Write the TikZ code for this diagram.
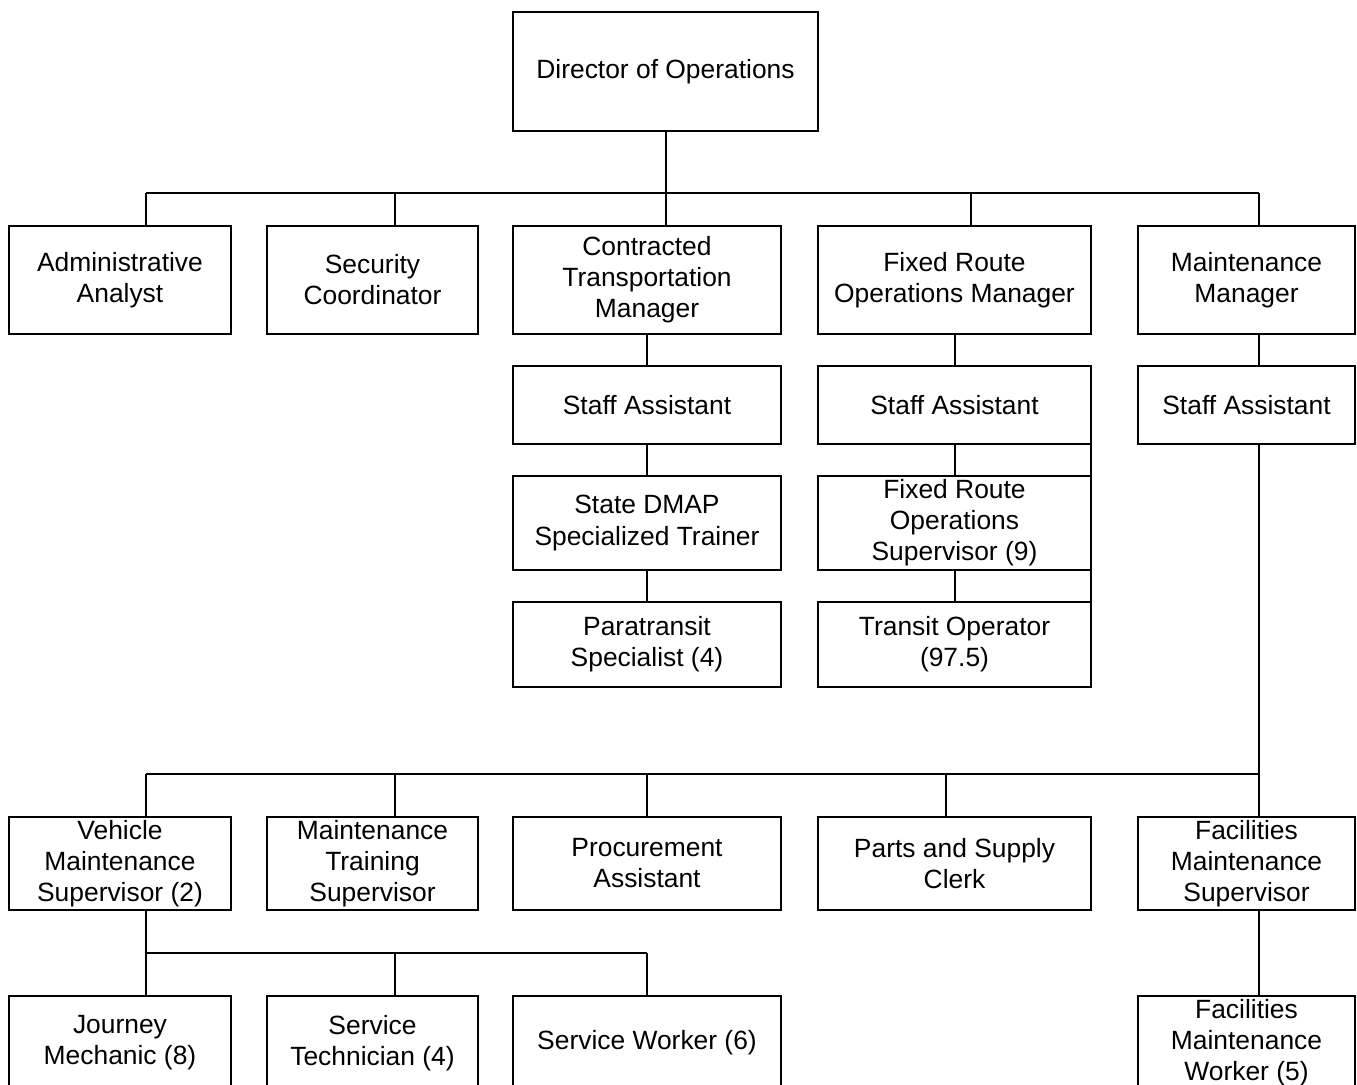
\documentclass[tikz,border=0pt]{standalone}
\usepackage{fontspec}
\setmainfont{Liberation Sans}
\begin{document}
\begin{tikzpicture}[x=0.75pt,y=-0.75pt,
  box/.style={draw, line width=1.5pt, inner sep=0pt, outer sep=0pt, align=center, anchor=north west,
    font=\fontsize{19.8}{23.3}\selectfont},
  sz/.style 2 args={minimum width=#1*0.75pt, minimum height=#2*0.75pt},
  wire/.style={line width=1.5pt}]
\useasboundingbox (0,0) rectangle (1357,1085);
\clip (0,0) rectangle (1357,1085);
% top
\node[box,sz={305}{119}] (dir) at (513,12) {Director of Operations};
% row 1
\node[box,sz={222}{108}] (aa)  at (9,226)    {Administrative\\Analyst};
\node[box,sz={211}{108}] (sc)  at (267,226)  {Security\\Coordinator};
\node[box,sz={268}{108}] (ctm) at (513,226)  {Contracted\\Transportation\\Manager};
\node[box,sz={273}{108}] (frm) at (818,226)  {Fixed Route\\Operations Manager};
\node[box,sz={217}{108}] (mm)  at (1138,226) {Maintenance\\Manager};
% row 2
\node[box,sz={268}{78}] (csa) at (513,366)  {Staff Assistant};
\node[box,sz={273}{78}] (fsa) at (818,366)  {Staff Assistant};
\node[box,sz={217}{78}] (msa) at (1138,366) {Staff Assistant};
% row 3
\node[box,sz={268}{94}] (dmap) at (513,476) {State DMAP\\Specialized Trainer};
\node[box,sz={273}{94}] (fros) at (818,476) {Fixed Route\\Operations\\Supervisor (9)};
% row 4
\node[box,sz={268}{85}] (para) at (513,602) {Paratransit\\Specialist (4)};
\node[box,sz={273}{85}] (to)   at (818,602) {Transit Operator\\(97.5)};
% row 5
\node[box,sz={222}{93}] (vms) at (9,817)    {Vehicle\\Maintenance\\Supervisor (2)};
\node[box,sz={211}{93}] (mts) at (267,817)  {Maintenance\\Training\\Supervisor};
\node[box,sz={268}{93}] (pa)  at (513,817)  {Procurement\\Assistant};
\node[box,sz={273}{93}] (psc) at (818,817)  {Parts and Supply\\Clerk};
\node[box,sz={217}{93}] (fms) at (1138,817) {Facilities\\Maintenance\\Supervisor};
% row 6
\node[box,sz={222}{94}] (jm)  at (9,996)    {Journey\\Mechanic (8)};
\node[box,sz={211}{94}] (st)  at (267,996)  {Service\\Technician (4)};
\node[box,sz={268}{94}] (sw)  at (513,996)  {Service Worker (6)};
\node[box,sz={217}{94}] (fmw) at (1138,996) {Facilities\\Maintenance\\Worker (5)};
% bus joints
\coordinate (a1) at (146,193);
\coordinate (a2) at (395,193);
\coordinate (a3) at (971,193);
\coordinate (a4) at (1259,193);
\coordinate (b1) at (146,774);
\coordinate (b2) at (395,774);
\coordinate (b3) at (647,774);
\coordinate (b4) at (946,774);
\coordinate (b5) at (1259,774);
\coordinate (c1) at (146,953);
\coordinate (c2) at (395,953);
\coordinate (c3) at (647,953);
% connectors top level
\draw[wire] (dir.south) -- (dir.south |- ctm.north);
\draw[wire] (a1) -- (a4);
\draw[wire] (a1) -- (a1 |- aa.north);
\draw[wire] (a2) -- (a2 |- sc.north);
\draw[wire] (a3) -- (a3 |- frm.north);
\draw[wire] (a4) -- (a4 |- mm.north);
% contracted column
\draw[wire] (ctm.south) -- (csa.north);
\draw[wire] (csa.south) -- (dmap.north);
\draw[wire] (dmap.south) -- (para.north);
% fixed route column
\draw[wire] (frm.south) -- (fsa.north);
\draw[wire] (fsa.south) -- (fros.north);
\draw[wire] (fros.south) -- (to.north);
\draw[wire] (fsa.south east) -- (to.north east);
% maintenance column
\draw[wire] (a4 |- mm.south) -- (a4 |- msa.north);
\draw[wire] (a4 |- msa.south) -- (b5);
\draw[wire] (b1) -- (b5);
\draw[wire] (b1) -- (b1 |- vms.north);
\draw[wire] (b2) -- (b2 |- mts.north);
\draw[wire] (b3) -- (b3 |- pa.north);
\draw[wire] (b4) -- (b4 |- psc.north);
\draw[wire] (b5) -- (b5 |- fms.north);
% vehicle maintenance
\draw[wire] (b1 |- vms.south) -- (c1);
\draw[wire] (c1) -- (c3);
\draw[wire] (c1) -- (c1 |- jm.north);
\draw[wire] (c2) -- (c2 |- st.north);
\draw[wire] (c3) -- (c3 |- sw.north);
% facilities
\draw[wire] (b5 |- fms.south) -- (b5 |- fmw.north);
\end{tikzpicture}
\end{document}
